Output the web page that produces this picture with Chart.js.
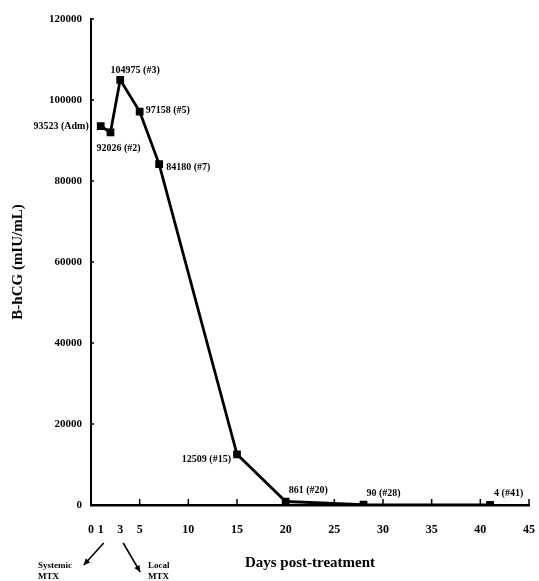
<!DOCTYPE html>
<html>
<head>
<meta charset="utf-8">
<script src="https://cdn.jsdelivr.net/npm/chart.js@4.4.0/dist/chart.umd.min.js"></script>
<style>
html,body{margin:0;padding:0;background:#fff;}
#wrap{width:539px;height:581px;position:relative;}
</style>
</head>
<body>
<div id="wrap"><canvas id="c" width="539" height="581"></canvas></div>
<script>
// ---- data ----
const days = [1, 2, 3, 5, 7, 15, 20, 28, 41];
const hcg = [93523, 92026, 104975, 97158, 84180, 12509, 861, 90, 4];
const pointLabels = ["93523 (Adm)", "92026 (#2)", "104975 (#3)", "97158 (#5)", "84180 (#7)", "12509 (#15)", "861 (#20)", "90 (#28)", "4 (#41)"];
const xTicks = [0, 1, 3, 5, 10, 15, 20, 25, 30, 35, 40, 45];
const yTicks = [0, 20000, 40000, 60000, 80000, 100000, 120000];
const yTitle = "B-hCG (mIU/mL)";
const xTitle = "Days post-treatment";
const note1 = ["Systemic", "MTX"];
const note2 = ["Local", "MTX"];

// ---- styles for labels (offsets from point) ----
const labelStyle = [
  {dx:-12, dy:0, align:'right'},
  {dx:8, dy:16, align:'center'},
  {dx:15, dy:-9, align:'center'},
  {dx:6, dy:-1, align:'left'},
  {dx:7, dy:3, align:'left'},
  {dx:-6, dy:5, align:'right'},
  {dx:3, dy:-11, align:'left'},
  {dx:3, dy:-11, align:'left'},
  {dx:4, dy:-12, align:'left'}
];
const SERIF = '"Liberation Serif","Times New Roman",serif';

const decor = {
  id: 'decor',
  afterDatasetsDraw(chart) {
    const ctx = chart.ctx;
    const xs = chart.scales.x, ys = chart.scales.y;
    const area = chart.chartArea;
    ctx.save();
    // inner tick marks
    ctx.strokeStyle = '#000';
    ctx.lineWidth = 1.5;
    [5,10,15,20,25,30,35,40,45].forEach(v => {
      const px = xs.getPixelForValue(v);
      ctx.beginPath(); ctx.moveTo(px, area.bottom); ctx.lineTo(px, area.bottom - 6); ctx.stroke();
    });
    yTicks.forEach(v => {
      if (v === 0) return;
      const py = ys.getPixelForValue(v);
      ctx.beginPath(); ctx.moveTo(area.left, py); ctx.lineTo(area.left + 3, py); ctx.stroke();
    });
    // point labels
    const meta = chart.getDatasetMeta(0);
    ctx.fillStyle = '#000';
    ctx.font = 'bold 10px ' + SERIF;
    ctx.textBaseline = 'middle';
    meta.data.forEach((pt, i) => {
      const s = labelStyle[i];
      ctx.textAlign = s.align;
      ctx.fillText(pointLabels[i], pt.x + s.dx, pt.y + s.dy);
    });
    // MTX notes with arrows
    const p1 = xs.getPixelForValue(1), p3 = xs.getPixelForValue(3);
    const arrow = (x1, y1, x2, y2) => {
      ctx.lineWidth = 1.6;
      ctx.beginPath(); ctx.moveTo(x1, y1); ctx.lineTo(x2, y2); ctx.stroke();
      const a = Math.atan2(y2 - y1, x2 - x1), L = 7;
      ctx.beginPath();
      ctx.moveTo(x2, y2);
      ctx.lineTo(x2 - L * Math.cos(a - 0.45), y2 - L * Math.sin(a - 0.45));
      ctx.lineTo(x2 - L * Math.cos(a + 0.45), y2 - L * Math.sin(a + 0.45));
      ctx.closePath(); ctx.fill();
    };
    arrow(p1 + 3, 543, p1 - 17, 565);
    arrow(p3 + 3, 543, p3 + 20, 572);
    ctx.font = 'bold 9px ' + SERIF;
    ctx.textAlign = 'left';
    ctx.fillText(note1[0], 38, 566);
    ctx.fillText(note1[1], 38, 577);
    ctx.fillText(note2[0], 148, 566);
    ctx.fillText(note2[1], 148, 577);
    ctx.restore();
  }
};

new Chart(document.getElementById('c'), {
  type: 'line',
  data: {
    datasets: [{
      data: days.map((d, i) => ({x: d, y: hcg[i]})),
      borderColor: '#000',
      backgroundColor: '#000',
      borderWidth: 2.8,
      tension: 0,
      pointStyle: 'rect',
      pointRadius: 3.5,
      pointBackgroundColor: '#000',
      pointBorderColor: '#000',
      fill: false
    }]
  },
  options: {
    responsive: false,
    animation: false,
    events: [],
    layout: {padding: {left: 0, right: 0, top: 19, bottom: 8}},
    plugins: {legend: {display: false}, tooltip: {enabled: false}},
    scales: {
      x: {
        type: 'linear', min: 0, max: 45,
        afterBuildTicks: s => { s.ticks = xTicks.map(v => ({value: v})); },
        afterFit: s => { s.height = 68; s.paddingRight = 10; },
        grid: {display: true, color: 'rgba(0,0,0,0)', drawTicks: false},
        border: {display: true, color: '#000', width: 2.5},
        ticks: {color: '#000', padding: 18, autoSkip: false, maxRotation: 0,
                font: {family: SERIF, size: 12, weight: 'bold'}},
        title: {display: true, text: xTitle, color: '#000', padding: {top: 0, bottom: 1},
                font: {family: SERIF, size: 15, weight: 'bold'}}
      },
      y: {
        type: 'linear', min: 0, max: 120000,
        afterBuildTicks: s => { s.ticks = yTicks.map(v => ({value: v})); },
        afterFit: s => { s.width = 91; },
        grid: {display: true, color: 'rgba(0,0,0,0)', drawTicks: false},
        border: {display: true, color: '#000', width: 2},
        ticks: {color: '#000', padding: 9,
                font: {family: SERIF, size: 11, weight: 'bold'},
                callback: v => String(v)},
        title: {display: true, text: yTitle, color: '#000', padding: {top: 9, bottom: 9},
                font: {family: SERIF, size: 15, weight: 'bold'}}
      }
    }
  },
  plugins: [decor]
});
</script>
</body>
</html>
